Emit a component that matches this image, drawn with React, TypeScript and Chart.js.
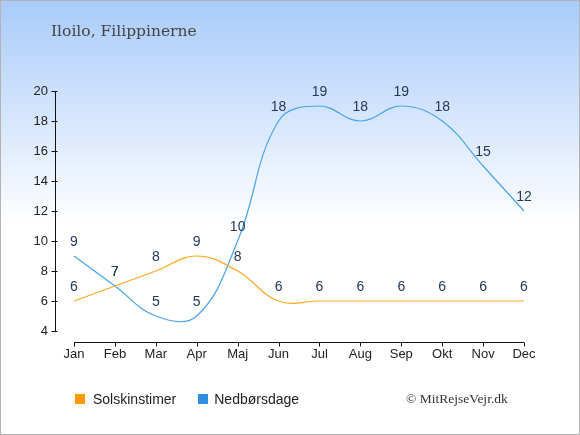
import React, { useEffect, useRef } from "react";
import { Chart, registerables } from "chart.js";

Chart.register(...registerables);

const months = ["Jan", "Feb", "Mar", "Apr", "Maj", "Jun", "Jul", "Aug", "Sep", "Okt", "Nov", "Dec"];
const sunHours = [6, 7, 8, 9, 8, 6, 6, 6, 6, 6, 6, 6];
const rainDays = [9, 7, 5, 5, 10, 18, 19, 18, 19, 18, 15, 12];
const yTicks = [4, 6, 8, 10, 12, 14, 16, 18, 20];

const sunColor = "#ffa726";
const rainColor = "#4aa3ef";
const labelColor = "#24385a";

// axes are drawn by hand: y line stops at 4, x line sits a bit lower
const axesPlugin = {
  id: "axesAndLabels",
  afterDraw(chart: any) {
    const { ctx, chartArea, scales } = chart;
    const x = scales.x;
    const y = scales.y;
    ctx.save();
    ctx.strokeStyle = "#111";
    ctx.lineWidth = 1;

    const ax = Math.round(chartArea.left) - 0.5;
    ctx.beginPath();
    ctx.moveTo(ax, y.getPixelForValue(20));
    ctx.lineTo(ax, y.getPixelForValue(4));
    yTicks.forEach((v) => {
      const py = Math.round(y.getPixelForValue(v)) + 0.5;
      ctx.moveTo(ax - 4, py);
      ctx.lineTo(ax + 2, py);
    });

    const by = Math.round(chartArea.bottom) + 11.5;
    ctx.moveTo(x.getPixelForValue(0), by);
    ctx.lineTo(x.getPixelForValue(months.length - 1), by);
    months.forEach((_, i) => {
      const px = Math.round(x.getPixelForValue(i)) + 0.5;
      ctx.moveTo(px, by);
      ctx.lineTo(px, by + 4);
    });
    ctx.stroke();

    ctx.fillStyle = labelColor;
    ctx.font = "14px 'Liberation Sans', Arial, sans-serif";
    ctx.textAlign = "center";
    ctx.textBaseline = "middle";
    chart.data.datasets.forEach((ds: any, di: number) => {
      const meta = chart.getDatasetMeta(di);
      meta.data.forEach((pt: any, i: number) => {
        ctx.fillText(String(ds.data[i].y), pt.x, pt.y - 14);
      });
    });
    ctx.restore();
  },
};

const App: React.FC = () => {
  const canvasRef = useRef<HTMLCanvasElement | null>(null);

  useEffect(() => {
    if (!canvasRef.current) return;

    const chart = new Chart(canvasRef.current, {
      type: "line",
      data: {
        datasets: [
          {
            label: "Solskinstimer",
            data: sunHours.map((v, i) => ({ x: i, y: v })),
            borderColor: sunColor,
            borderWidth: 1.2,
            tension: 0.4,
            pointRadius: 0,
            fill: false,
          },
          {
            label: "Nedbørsdage",
            data: rainDays.map((v, i) => ({ x: i, y: v })),
            borderColor: rainColor,
            borderWidth: 1.2,
            tension: 0.4,
            pointRadius: 0,
            fill: false,
          },
        ],
      },
      options: {
        responsive: false,
        animation: false,
        layout: { padding: { top: 90, right: 57, left: 0, bottom: 0 } },
        plugins: {
          legend: { display: false },
          tooltip: { enabled: false },
        },
        scales: {
          x: {
            type: "linear",
            min: -0.44,
            max: 11,
            grid: { display: false, drawTicks: false },
            border: { display: false },
            afterBuildTicks: (scale: any) => {
              scale.ticks = months.map((_, i) => ({ value: i }));
            },
            afterFit: (scale: any) => {
              scale.height = 105;
            },
            ticks: {
              autoSkip: false,
              maxRotation: 0,
              padding: 16,
              color: "#222",
              font: { family: "'Liberation Sans', Arial, sans-serif", size: 13 },
              callback: (v: any) => months[v] ?? "",
            },
          },
          y: {
            min: 4,
            max: 20,
            grid: { display: false, drawTicks: false },
            border: { display: false },
            afterBuildTicks: (scale: any) => {
              scale.ticks = yTicks.map((v) => ({ value: v }));
            },
            afterFit: (scale: any) => {
              scale.width = 55;
            },
            ticks: {
              padding: 8,
              color: "#222",
              font: { family: "'Liberation Sans', Arial, sans-serif", size: 13 },
            },
          },
        },
      },
      plugins: [axesPlugin],
    });

    return () => {
      chart.destroy();
    };
  }, []);

  return (
    <div
      style={{
        position: "absolute",
        left: 0,
        top: 0,
        width: 580,
        height: 435,
        boxSizing: "border-box",
        border: "1px solid #b3b3b3",
        background: "linear-gradient(#a9cbfa 0px, #ffffff 225px)",
        overflow: "hidden",
      }}
    >
      <canvas
        ref={canvasRef}
        width={580}
        height={435}
        style={{ position: "absolute", left: 0, top: 0, width: 580, height: 435 }}
      ></canvas>
      <div
        style={{
          position: "absolute",
          left: 50,
          top: 21,
          fontFamily: "'DejaVu Serif', serif",
          fontSize: 15.5,
          color: "#444",
          whiteSpace: "nowrap",
        }}
      >
        Iloilo, Filippinerne
      </div>
      <div
        style={{
          position: "absolute",
          left: 74,
          top: 389,
          display: "flex",
          alignItems: "center",
          fontFamily: "'Liberation Sans', Arial, sans-serif",
          fontSize: 14,
          color: "#222",
          lineHeight: "18px",
        }}
      >
        <span style={{ width: 10, height: 10, background: "#ff9900", marginRight: 8 }}></span>
        <span style={{ marginRight: 22 }}>Solskinstimer</span>
        <span style={{ width: 10, height: 10, background: "#2e8fe3", marginRight: 6 }}></span>
        <span>Nedbørsdage</span>
      </div>
      <div
        style={{
          position: "absolute",
          left: 405,
          top: 389,
          fontFamily: "'Liberation Serif', serif",
          fontSize: 13.5,
          color: "#333",
          lineHeight: "18px",
          whiteSpace: "nowrap",
        }}
      >
        © MitRejseVejr.dk
      </div>
    </div>
  );
};

export default App;
